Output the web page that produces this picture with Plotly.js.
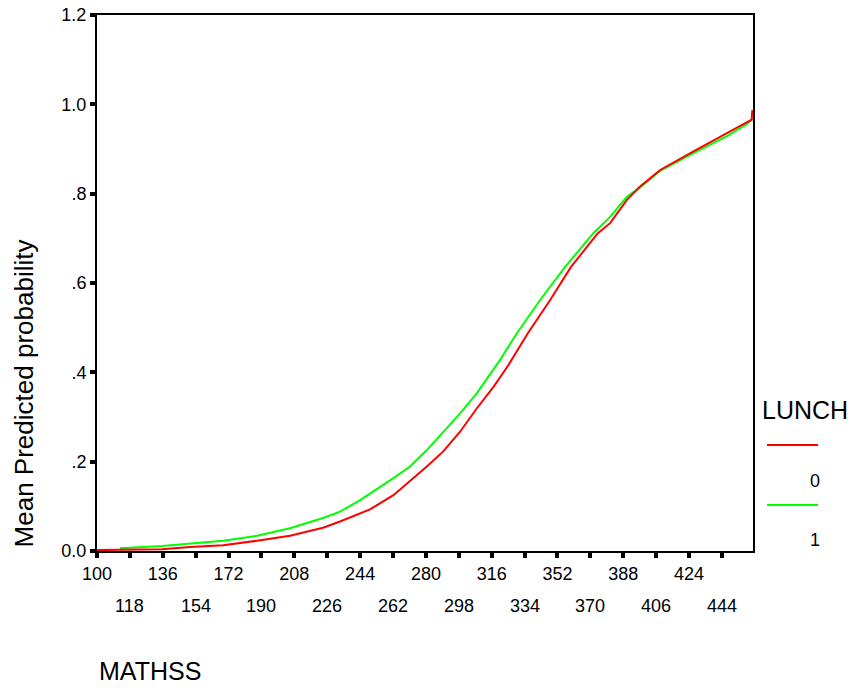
<!DOCTYPE html>
<html>
<head>
<meta charset="utf-8">
<script src="https://cdn.plot.ly/plotly-3.0.1.min.js"></script>
<style>
html,body{margin:0;padding:0;background:#fff;}
#chart{width:852px;height:691px;}
</style>
</head>
<body>
<div id="chart"></div>
<script>
// MATHSS values and mean predicted probability, LUNCH = 0 (red)
const mathss0 = [100, 135.6, 150.9, 169, 187.6, 205.6, 223.7, 233, 249.4, 262.2, 280.5, 289.5, 298.7, 307.8, 316.9, 325.1, 335.7, 348, 359.4, 374, 380.8, 390, 397.2, 408.2, 426.2, 444.8, 455.8, 458.3, 458.6];
const prob0    = [0.002, 0.004, 0.009, 0.013, 0.023, 0.034, 0.052, 0.066, 0.093, 0.125, 0.189, 0.223, 0.267, 0.319, 0.367, 0.416, 0.487, 0.562, 0.636, 0.711, 0.734, 0.786, 0.816, 0.853, 0.894, 0.935, 0.961, 0.966, 0.987];
// LUNCH = 1 (green)
const mathss1 = [112.6, 135.6, 169, 187.6, 205.6, 223.7, 233, 244, 262.2, 271.3, 280.5, 289.5, 298.7, 307.8, 320.6, 329.7, 342.5, 356.2, 371.5, 380.8, 390, 397.2, 408.2, 426.2, 444.8, 455.8, 458.5];
const prob1    = [0.006, 0.011, 0.023, 0.034, 0.051, 0.074, 0.088, 0.114, 0.163, 0.189, 0.226, 0.267, 0.308, 0.353, 0.428, 0.487, 0.562, 0.636, 0.711, 0.748, 0.793, 0.814, 0.851, 0.890, 0.929, 0.956, 0.966];

const groups = ['0', '1'];
const groupColors = ['#ff0000', '#00ff00'];

const xTickVals = [100,118,136,154,172,190,208,226,244,262,280,298,316,334,352,370,388,406,424,442];
const xTickLabels = ['100','118','136','154','172','190','208','226','244','262','280','298','316','334','352','370','388','406','424','444'];
const yTickVals = [0, 0.2, 0.4, 0.6, 0.8, 1.0, 1.2];
const yTickLabels = ['0.0', '.2', '.4', '.6', '.8', '1.0', '1.2'];

const xTitle = 'MATHSS';
const yTitle = 'Mean Predicted probability';
const legendTitle = 'LUNCH';

const FONT = 'Liberation Sans, Arial, Helvetica, sans-serif';

const rowA = xTickLabels.map((t, i) => i % 2 === 0 ? t : '');
const rowBVals = xTickVals.filter((v, i) => i % 2 === 1);
const rowBText = xTickLabels.filter((t, i) => i % 2 === 1);

const traces = [
  {x: mathss1, y: prob1, mode: 'lines', line: {color: groupColors[1], width: 2}, name: groups[1], showlegend: false, hoverinfo: 'skip'},
  {x: mathss0, y: prob0, mode: 'lines', line: {color: groupColors[0], width: 2}, name: groups[0], showlegend: false, hoverinfo: 'skip'}
];

const annotations = [
  {text: yTitle, xref: 'paper', yref: 'paper', x: -0.1113, y: 0.294, textangle: -90,
   xanchor: 'center', yanchor: 'middle', showarrow: false, font: {family: FONT, size: 26, color: '#000'}},
  {text: xTitle, xref: 'paper', yref: 'paper', x: 0, y: -0.2239,
   xanchor: 'left', yanchor: 'middle', showarrow: false, font: {family: FONT, size: 25, color: '#000'}},
  {text: legendTitle, xref: 'paper', yref: 'paper', x: 1.0793, y: 0.263,
   xanchor: 'center', yanchor: 'middle', showarrow: false, font: {family: FONT, size: 25, color: '#000'}},
  {text: groups[0], xref: 'paper', yref: 'paper', x: 1.0945, y: 0.1306,
   xanchor: 'center', yanchor: 'middle', showarrow: false, font: {family: FONT, size: 18, color: '#000'}},
  {text: groups[1], xref: 'paper', yref: 'paper', x: 1.0945, y: 0.0205,
   xanchor: 'center', yanchor: 'middle', showarrow: false, font: {family: FONT, size: 18, color: '#000'}}
].concat(rowBVals.map((v, i) => ({
  text: rowBText[i], xref: 'x', yref: 'paper', x: v, y: -0.1026,
  xanchor: 'center', yanchor: 'middle', showarrow: false, font: {family: FONT, size: 18, color: '#000'}
})));

const layout = {
  width: 852, height: 691,
  margin: {l: 97, r: 99, t: 15, b: 140},
  paper_bgcolor: '#fff', plot_bgcolor: '#fff',
  font: {family: FONT, size: 18, color: '#000'},
  showlegend: false,
  xaxis: {
    range: [100, 459], showgrid: false, zeroline: false,
    showline: true, linecolor: '#000', linewidth: 2, mirror: true,
    tickvals: xTickVals, ticktext: rowA,
    ticks: 'outside', ticklen: 5, tickwidth: 4, tickcolor: '#000',
    tickfont: {family: FONT, size: 18, color: '#000'}
  },
  yaxis: {
    range: [0, 1.2], showgrid: false, zeroline: false,
    showline: true, linecolor: '#000', linewidth: 2, mirror: true,
    tickvals: yTickVals, ticktext: yTickLabels,
    ticks: 'outside', ticklen: 5, tickwidth: 4, tickcolor: '#000',
    tickfont: {family: FONT, size: 18, color: '#000'}
  },
  annotations: annotations,
  shapes: [
    {type: 'line', xref: 'paper', yref: 'paper', x0: 1.0213, x1: 1.0991, y0: 0.1978, y1: 0.1978, line: {color: groupColors[0], width: 2}},
    {type: 'line', xref: 'paper', yref: 'paper', x0: 1.0213, x1: 1.0991, y0: 0.0858, y1: 0.0858, line: {color: groupColors[1], width: 2}}
  ]
};

Plotly.newPlot('chart', traces, layout, {staticPlot: true, displayModeBar: false});
</script>
</body>
</html>
